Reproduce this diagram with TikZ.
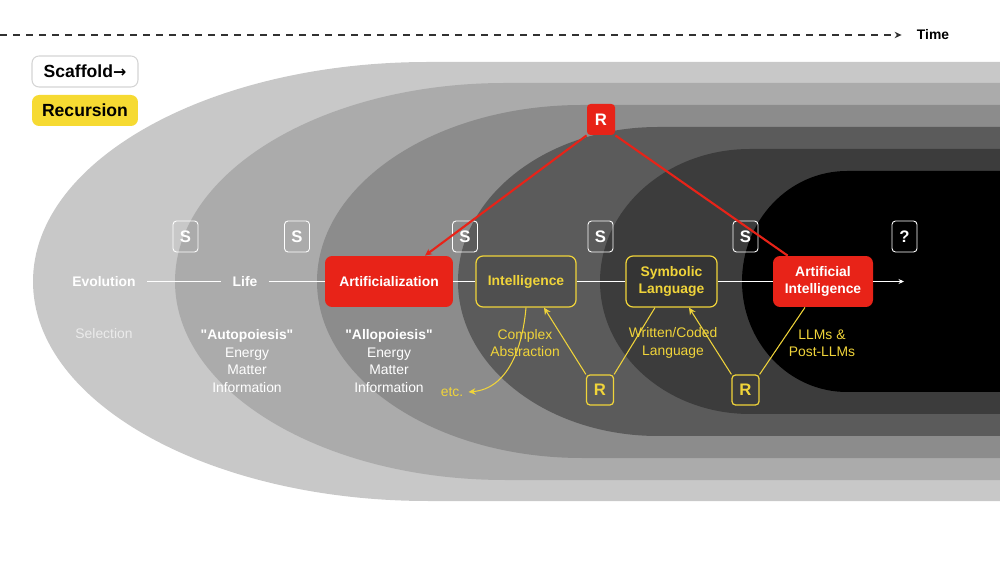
\documentclass[tikz,border=0pt]{standalone}
\usepackage{fontspec}
\setmainfont{Liberation Sans}[Ligatures=TeXOff]
\newfontfamily\arrowfont{DejaVu Sans}
\usetikzlibrary{arrows.meta}
\definecolor{layerone}{RGB}{200,200,200}
\definecolor{layertwo}{RGB}{171,171,171}
\definecolor{layerthree}{RGB}{140,140,140}
\definecolor{layerfour}{RGB}{91,91,91}
\definecolor{layerfive}{RGB}{60,60,60}
\definecolor{layersix}{RGB}{0,0,0}
\definecolor{markred}{RGB}{232,35,24}
\definecolor{markyellow}{RGB}{240,212,58}
\definecolor{legendyellow}{RGB}{246,218,50}
\definecolor{legendgray}{RGB}{212,212,212}
\definecolor{timegray}{RGB}{50,50,50}

\begin{document}
\begin{tikzpicture}[
  x=0.02cm,y=-0.02cm,
  >={Stealth[length=1.4mm,width=1.3mm]},
  lab/.style={font=\fontsize{7.9}{9.9}\selectfont\bfseries,text=white,inner sep=0.22cm},
  note/.style={font=\fontsize{7.9}{9.9}\selectfont,text=white,align=center,inner sep=1pt},
  ynote/.style={note,text=markyellow},
  redbox/.style={fill=markred,rounded corners=4pt,font=\fontsize{7.9}{9.9}\selectfont\bfseries,text=white,align=center,minimum height=1.02cm,inner sep=2pt},
  yelbox/.style={draw=markyellow,line width=0.7pt,fill=black,fill opacity=0.12,text opacity=1,rounded corners=4pt,font=\fontsize{7.9}{9.9}\selectfont\bfseries,text=markyellow,align=center,minimum height=1.02cm,inner sep=2pt},
  sbox/.style={draw=white,line width=0.5pt,rounded corners=2pt,minimum width=0.5cm,minimum height=0.62cm,inner sep=0pt,font=\fontsize{9.5}{10}\selectfont\bfseries,text=white},
  rbox/.style={sbox,draw=markyellow,line width=0.7pt,text=markyellow,minimum width=0.54cm,minimum height=0.6cm},
  rtopbox/.style={sbox,draw=none,fill=markred,minimum width=0.56cm},
  legend/.style={rounded corners=4pt,minimum width=2.12cm,minimum height=0.62cm,inner sep=0pt,font=\fontsize{10}{12}\selectfont\bfseries,text=black},
  tline/.style={white,line width=0.8pt},
  yar/.style={markyellow,line width=0.6pt},
  rar/.style={markred,line width=1.2pt}
]
\useasboundingbox (0,0) rectangle (1000,563);

% NESTED LAYERS, outer to inner (left end is a half ellipse)
\foreach \lft/\tp/\rx/\col in {33/62/395/layerone, 175/83/330/layertwo, 317/105/265/layerthree, 458/127/200/layerfour, 600/149/150/layerfive, 742/171/105/layersix}{
  \pgfmathsetmacro{\fx}{\lft+\rx}
  \pgfmathsetmacro{\cx}{\lft+0.4477*\rx}
  \pgfmathsetmacro{\ua}{281.5-0.5523*(281.5-\tp)}
  \pgfmathsetmacro{\ub}{281.5+0.5523*(281.5-\tp)}
  \fill[\col] (1000,\tp) -- (\fx,\tp) .. controls (\cx,\tp) and (\lft,\ua) .. (\lft,281.5)
    .. controls (\lft,\ub) and (\cx,563-\tp) .. (\fx,563-\tp) -- (1000,563-\tp) -- cycle;
}

% TIME AXIS and legend
\coordinate (tstart) at (0,35);
\node[font=\fontsize{7.9}{9.9}\selectfont\bfseries,inner sep=0.3cm] (time) at (933,35) {Time};
\draw[->,timegray,line width=0.6pt,dash pattern=on 4pt off 3.4pt] (tstart) -- (time);

\node[legend,draw=legendgray,line width=0.6pt,fill=white] (scaf) at (85,71.5) {Scaffold{\arrowfont\fontsize{9}{10}\selectfont →}};
\node[legend,fill=legendyellow] (recu) at (85,110.5) {Recursion};

% MAIN LINE
\node[lab] (evo) at (104,281.5) {Evolution};
\node[lab] (life) at (245,281.5) {Life};
\node[redbox,minimum width=2.56cm] (artif) at (389,281.5) {Artificialization};
\node[yelbox,minimum width=2.0cm] (intel) at (526,281.5) {Intelligence};
\node[yelbox,minimum width=1.82cm] (symb) at (671.5,281.5) {Symbolic\\Language};
\node[redbox,minimum width=2.0cm] (ai) at (823,281.5) {Artificial\\Intelligence};
\coordinate (tend) at (904,281.5);

\draw[tline] (evo) -- (life);
\draw[tline] (life) -- (artif);
\draw[tline] (artif) -- (intel);
\draw[tline] (intel) -- (symb);
\draw[tline] (symb) -- (ai);
\draw[tline,-{Stealth[length=1.1mm,width=1mm]}] (ai) -- (tend);

% SCAFFOLD MARKERS
\node[sbox] (s1) at (185.5,236.5) {S};
\node[sbox] (s2) at (297,236.5) {S};
\node[sbox] (s3) at (465,236.5) {S};
\node[sbox] (s4) at (600.5,236.5) {S};
\node[sbox] (s5) at (745.5,236.5) {S};
\node[sbox] (qm) at (904.5,236.5) {?};

% RECURSION: top red
\node[rtopbox] (rtop) at (601,119.5) {R};
\draw[rar,->] (rtop.south west) -- ([xshift=0.72cm]artif.north);
\draw[rar] (rtop.south east) -- ([xshift=0.3cm]ai.north west);

% RECURSION: lower yellow
\node[rbox] (r1) at (600,390) {R};
\node[rbox] (r2) at (745.5,390) {R};
\draw[yar,->] (r1.north west) -- ([xshift=0.36cm]intel.south);
\draw[yar] (r1.north east) -- ([xshift=-0.33cm]symb.south);
\draw[yar,->] (r2.north west) -- ([xshift=0.35cm]symb.south);
\draw[yar] (r2.north east) -- ([xshift=-0.36cm]ai.south);

% TEXTS BELOW
\node[note,text=white!92!black] (selec) at (104,334) {Selection};
\node[note] (auto) at (247,361) {\textbf{"Autopoiesis"}\\Energy\\Matter\\Information};
\node[note] (allo) at (389,361) {\textbf{"Allopoiesis"}\\Energy\\Matter\\Information};
\node[ynote] (cabs) at (525,343) {Complex\\Abstraction};
\node[ynote] (wcod) at (673,343) {Written/Coded\\Language};
\node[ynote] (llms) at (822,343) {LLMs \&\\Post-LLMs};
\node[ynote,inner sep=0.1cm] (etc) at (452,392) {etc.};
\draw[yar,->] (intel.south) to[out=-95,in=5] (etc.east);

\end{tikzpicture}
\end{document}
